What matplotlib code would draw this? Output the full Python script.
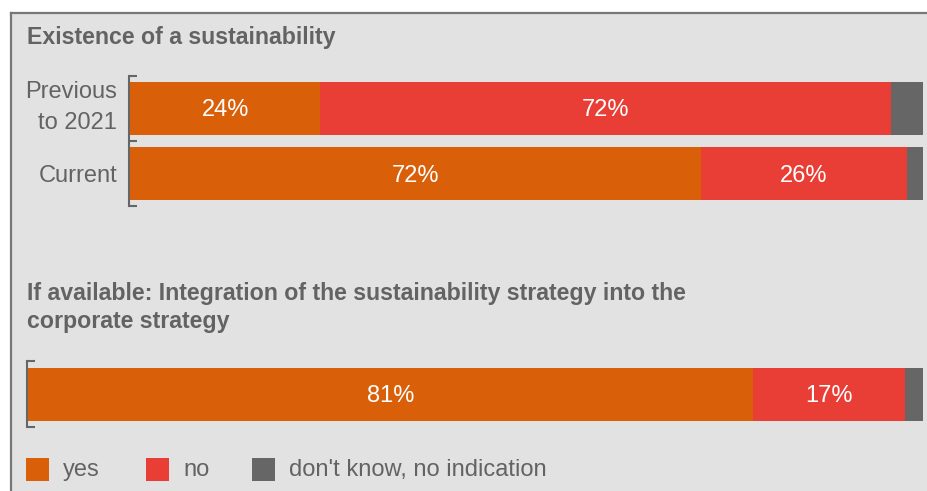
import matplotlib
matplotlib.use("Agg")
import matplotlib.pyplot as plt
from matplotlib.patches import Rectangle
from matplotlib.lines import Line2D
from matplotlib.transforms import ScaledTranslation

plt.rcParams['font.family'] = ['Liberation Sans', 'DejaVu Sans']

# Data
series_names = ["yes", "no", "don't know, no indication"]
colors = ["#D95F08", "#E83E35", "#666666"]

top_title = "Existence of a sustainability"
top_categories = ["Previous\nto 2021", "Current"]
top_yes = [24, 72]
top_no = [72, 26]
top_dk = [4, 2]

bottom_title = "If available: Integration of the sustainability strategy into the\ncorporate strategy"
bottom_yes = [81]
bottom_no = [17]
bottom_dk = [2]

W, H = 927, 491
BG = "#E2E2E2"
TXT = "#636363"
EDGE = "#777777"
FS = 17
FS_TITLE = 16.7

fig = plt.figure(figsize=(W / 100, H / 100), dpi=100, facecolor="white")

# panel background with top/left frame
fig.patches.append(Rectangle((11 / W, 0), 1 - 11 / W, 1 - 13 / H, transform=fig.transFigure,
                             facecolor=BG, edgecolor="none", zorder=-10))
fig.lines.append(Line2D([11 / W, 1], [1 - 13 / H, 1 - 13 / H], transform=fig.transFigure,
                        color=EDGE, lw=1.6, zorder=-5))
fig.lines.append(Line2D([11 / W, 11 / W], [0, 1 - 13 / H], transform=fig.transFigure,
                        color=EDGE, lw=1.6, zorder=-5))


def px_axes(left, right, top, bottom):
    return fig.add_axes([left / W, 1 - bottom / H, (right - left) / W, (bottom - top) / H])


def shift(dx_px, dy_px, base):
    return base + ScaledTranslation(dx_px / 100, dy_px / 100, fig.dpi_scale_trans)


def stacked(ax, yes, no, dk, height):
    ys = list(range(len(yes)))
    lefts = [0] * len(yes)
    for vals, col in zip((yes, no, dk), colors):
        ax.barh(ys, vals, left=lefts, height=height, color=col, edgecolor="none", zorder=2)
        for y, l, v in zip(ys, lefts, vals):
            if v >= 10:
                ax.text(l + v / 2, y, f"{v}%", ha="center", va="center", color="white",
                        fontsize=FS, zorder=3, transform=shift(0, -2, ax.transData))
        lefts = [l + v for l, v in zip(lefts, vals)]
    ax.set_xlim(0, 100)
    ax.set_ylim(len(yes) - 0.5, -0.5)
    ax.set_facecolor("none")
    for s in ("top", "right", "bottom"):
        ax.spines[s].set_visible(False)
    ax.spines["left"].set_color("#666666")
    ax.spines["left"].set_linewidth(1.5)
    ax.spines["left"].set_position(("outward", 1))
    ax.set_xticks([])
    ax.set_yticks([i - 0.5 for i in range(len(yes) + 1)])
    ax.set_yticklabels([])
    ax.tick_params(axis="y", which="major", direction="in", length=6, width=1.5,
                   color="#666666")


# Top panel
ax1 = px_axes(130, 923, 76, 206)
stacked(ax1, top_yes, top_no, top_dk, 53 / 65)
for i, cat in enumerate(top_categories):
    n_lines = cat.count("\n") + 1
    ax1.text(0, i, cat, ha="right", va="center", fontsize=FS, color=TXT, linespacing=1.5,
             transform=shift(-13, -2 + 3 * (n_lines - 1), ax1.get_yaxis_transform()))

# Bottom panel
ax2 = px_axes(28, 923, 361, 427)
stacked(ax2, bottom_yes, bottom_no, bottom_dk, 53 / 66)

# Titles
fig.text(27 / W, 1 - 37.5 / H, top_title, fontsize=FS_TITLE, fontweight="bold", color=TXT,
         ha="left", va="center")
fig.text(27 / W, 1 - 307.5 / H, bottom_title, fontsize=FS_TITLE, fontweight="bold", color=TXT,
         ha="left", va="center", linespacing=1.3)

# Legend
legend_x = [26, 146, 252]
for name, col, x in zip(series_names, colors, legend_x):
    fig.patches.append(Rectangle((x / W, 1 - 481 / H), 23 / W, 23 / H,
                                 transform=fig.transFigure, facecolor=col, edgecolor="none"))
    fig.text((x + 37) / W, 1 - 470 / H, name, fontsize=FS, color=TXT, ha="left",
             va="center")

fig.savefig("out.png", dpi=100, facecolor="white")
